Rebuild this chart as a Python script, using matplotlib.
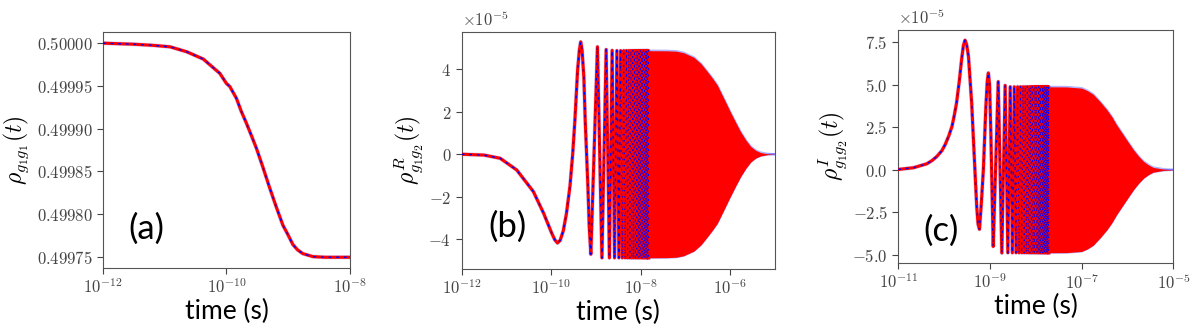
import numpy as np
import matplotlib
matplotlib.use("Agg")
import matplotlib.pyplot as plt
from matplotlib.ticker import FuncFormatter, FixedLocator, NullLocator

plt.rcParams["mathtext.fontset"] = "cm"

# ---------------- data ----------------
# (a) population, x as log10(time / s)
a_log10_t = [-12.0, -11.5, -11.2, -10.914, -10.645, -10.376, -10.107, -10.0,
             -9.946, -9.839, -9.76, -9.677, -9.6, -9.516, -9.41, -9.302,
             -9.194, -9.087, -9.0, -8.926, -8.85, -8.764, -8.6, -8.4, -8.0]
a_rho = [0.4999995, 0.49999825, 0.499997, 0.49999525, 0.4999895, 0.499981,
         0.49996425, 0.4999525, 0.499949, 0.49993525, 0.49992, 0.49990625,
         0.4998925, 0.49987725, 0.499855, 0.49983125, 0.49980875, 0.4997875,
         0.49977575, 0.499765, 0.49975875, 0.49975425, 0.49975075, 0.49975,
         0.49975]

# (b) real part (units of 1e-5): smooth start, then extrema (ns), then envelope
b_log10_t = [-12.0, -11.5, -11.14, -10.77, -10.4, -10.17, -9.99, -9.92, -9.86,
             -9.8, -9.73, -9.66, -9.58, -9.52, -9.47, -9.41, -9.37, -9.34,
             -9.31, -9.27, -9.24, -9.18, -9.15, -9.114]
b_start = [0.0, -0.04, -0.19, -0.74, -1.75, -2.77, -3.7, -4.02, -4.17, -4.05,
           -3.6, -2.8, -1.5, 0.0, 1.6, 3.95, 4.9, 5.28, 4.9, 3.6, 1.6, -1.5,
           -3.4, -4.7]
b_ext_ns = [1.08, 1.36, 1.69, 2.00, 2.30, 2.60, 2.94]
b_ext_val = [5.05, -4.87, 4.92, -4.87, 4.88, -4.87, 4.87]
b_amp = 4.87
b_peaks_ns = [3.56, 4.18, 4.80, 5.42, 6.04, 6.66, 7.28, 7.90, 8.52, 9.14, 9.76,
              10.38, 11.00, 11.62, 12.24, 12.86, 13.48, 14.10, 14.72]
b_troughs_ns = [3.25, 3.87, 4.49, 5.11, 5.73, 6.35, 6.97, 7.59, 8.21, 8.83,
                9.45, 10.07, 10.69, 11.31, 11.93, 12.55, 13.17, 13.79, 14.41,
                15.03]
b_env_log10_t = [-8.35, -8.0, -7.41, -7.2, -7.04, -6.81, -6.65, -6.51, -6.4,
                 -6.29, -6.15, -6.0, -5.88, -5.77, -5.65, -5.54, -5.43, -5.32,
                 -5.17, -5.0]
b_env = [4.87, 4.87, 4.86, 4.84, 4.77, 4.55, 4.25, 3.88, 3.58, 3.25, 2.65,
         2.0, 1.5, 1.06, 0.66, 0.36, 0.18, 0.08, 0.02, 0.0]

# (c) imaginary part (units of 1e-5)
c_log10_t = [-11.0, -10.67, -10.38, -10.27, -10.16, -10.05, -9.98, -9.9, -9.83,
             -9.78, -9.73, -9.67, -9.62, -9.58, -9.545, -9.51, -9.47, -9.40,
             -9.34, -9.29, -9.26, -9.23, -9.19, -9.145, -9.09, -9.06, -9.036,
             -9.01, -8.98, -8.95, -8.93]
c_start = [0.02, 0.12, 0.35, 0.53, 0.78, 1.12, 1.47, 1.98, 2.54, 3.18, 3.92,
           5.2, 6.46, 7.3, 7.6, 7.35, 6.66, 3.92, 0.59, -2.15, -3.2, -3.49,
           -2.0, 0.0, 3.72, 5.2, 5.68, 5.0, 1.96, -2.0, -4.5]
c_ext_ns = [1.51, 1.81, 2.14]
c_ext_val = [5.17, -4.88, 4.95]
c_amp = 4.87
c_peaks_ns = [2.76, 3.38, 4.00, 4.62, 5.24, 5.86, 6.48, 7.10, 7.72, 8.34, 8.96,
              9.58, 10.20, 10.82, 11.44, 12.06, 12.68, 13.30, 13.92, 14.54,
              15.16, 15.78, 16.40, 17.02, 17.64, 18.26, 18.88]
c_troughs_ns = [2.45, 3.07, 3.69, 4.31, 4.93, 5.55, 6.17, 6.79, 7.41, 8.03,
                8.65, 9.27, 9.89, 10.51, 11.13, 11.75, 12.37, 12.99, 13.61,
                14.23, 14.85, 15.47, 16.09, 16.71, 17.33, 17.95, 18.57, 19.19]
c_env_log10_t = [-8.3, -8.0, -7.33, -7.0, -6.88, -6.75, -6.6, -6.45, -6.34,
                 -6.24, -6.13, -6.02, -5.87, -5.76, -5.65, -5.54, -5.44, -5.22,
                 -5.0]
c_env = [4.87, 4.87, 4.86, 4.79, 4.65, 4.43, 4.0, 3.52, 3.1, 2.64, 2.2, 1.76,
         1.17, 0.8, 0.49, 0.28, 0.14, 0.04, 0.0]


def build_curve(log_t, start, ext_ns, ext_val, peaks_ns, troughs_ns, amp):
    dense = sorted([(p, amp) for p in peaks_ns] + [(q, -amp) for q in troughs_ns])
    t = list(10.0 ** np.array(log_t)) + [x * 1e-9 for x in ext_ns] + [d[0] * 1e-9 for d in dense]
    v = list(start) + list(ext_val) + [d[1] for d in dense]
    return np.array(t), np.array(v)


def draw(ax, t, v, env_log_t=None, env=None, split=None):
    if env is not None:
        et = 10.0 ** np.array(env_log_t)
        ev = np.array(env)
        ax.plot(et, ev, color="blue", lw=1.6, alpha=0.3, zorder=1)
        ax.plot(et, -ev, color="blue", lw=1.6, alpha=0.3, zorder=1)
        ax.fill_between(et, -ev, ev, color="red", lw=0, zorder=2)
    ax.plot(t, v, color="blue", lw=3.0, alpha=0.18, zorder=1)
    ax.plot(t, v, color="red", lw=2.2, zorder=3)
    if split is None:
        ax.plot(t, v, color="blue", lw=1.0, ls=(0, (2.0, 3.5)), zorder=4)
    else:
        # resolvable swings get the normal dashes, the packed ones a finer stroke
        n = np.searchsorted(t, split)
        ax.plot(t[:n + 1], v[:n + 1], color="blue", lw=1.0, ls=(0, (2.0, 3.5)), zorder=4)
        ax.plot(t[n:], v[n:], color="blue", lw=0.7, ls=(0, (1.6, 4.8)), zorder=4)


def style(ax, xticks, fmt):
    ax.set_xscale("log")
    ax.xaxis.set_major_locator(FixedLocator(xticks))
    ax.xaxis.set_minor_locator(NullLocator())
    ax.xaxis.set_major_formatter(FuncFormatter(
        lambda x, p: r"$10^{%d}$" % int(round(np.log10(x)))))
    ax.yaxis.set_major_formatter(FuncFormatter(fmt))
    ax.tick_params(labelsize=12, colors="#444444", length=4)
    for s in ax.spines.values():
        s.set_color("#555555")
    ax.set_xlabel("time (s)", fontsize=19, family="Lato", labelpad=1)


fig = plt.figure(figsize=(11.96, 3.32), dpi=100)

# (a)
ax1 = fig.add_axes([0.0861, 0.1928, 0.2065, 0.7108])
t_a = 10.0 ** np.array(a_log10_t)
draw(ax1, t_a, np.array(a_rho))
ax1.set_xlim(1e-12, 1e-8)
ax1.set_ylim(0.4997375, 0.5000125)
ax1.set_yticks([0.49975, 0.4998, 0.49985, 0.4999, 0.49995, 0.5])
style(ax1, [1e-12, 1e-10, 1e-8], lambda y, p: r"$%.5f$" % y)
ax1.set_ylabel(r"$\rho_{g_1g_1}(t)$", fontsize=17)
ax1.text(0.175, 0.165, "(a)", transform=ax1.transAxes, fontsize=25,
         family="Lato", ha="center", va="center")

# (b)
ax2 = fig.add_axes([0.386, 0.19, 0.262, 0.714])
t_b, v_b = build_curve(b_log10_t, b_start, b_ext_ns, b_ext_val,
                       b_peaks_ns, b_troughs_ns, b_amp)
draw(ax2, t_b, v_b, b_env_log10_t, b_env, split=3.3e-9)
ax2.set_xlim(1e-12, 1e-5)
ax2.set_ylim(-5.39, 5.75)
ax2.set_yticks([-4, -2, 0, 2, 4])
style(ax2, [1e-12, 1e-10, 1e-8, 1e-6], lambda y, p: r"$%d$" % round(y))
ax2.set_ylabel(r"$\rho^{R}_{g_1g_2}(t)$", fontsize=17, labelpad=2)
ax2.text(0.0, 1.01, r"$\times10^{-5}$", transform=ax2.transAxes, fontsize=12,
         color="#444444", ha="left", va="bottom")
ax2.text(0.147, 0.177, "(b)", transform=ax2.transAxes, fontsize=25,
         family="Lato", ha="center", va="center")

# (c)
ax3 = fig.add_axes([0.7511, 0.2078, 0.23, 0.7018])
t_c, v_c = build_curve(c_log10_t, c_start, c_ext_ns, c_ext_val,
                       c_peaks_ns, c_troughs_ns, c_amp)
draw(ax3, t_c, v_c, c_env_log10_t, c_env, split=3.5e-9)
ax3.set_xlim(1e-11, 1e-5)
ax3.set_ylim(-5.47, 8.2)
ax3.set_yticks([-5.0, -2.5, 0.0, 2.5, 5.0, 7.5])
style(ax3, [1e-11, 1e-9, 1e-7, 1e-5], lambda y, p: r"$%.1f$" % y)
ax3.set_ylabel(r"$\rho^{I}_{g_1g_2}(t)$", fontsize=17, labelpad=2)
ax3.text(0.0, 1.01, r"$\times10^{-5}$", transform=ax3.transAxes, fontsize=12,
         color="#444444", ha="left", va="bottom")
ax3.text(0.155, 0.137, "(c)", transform=ax3.transAxes, fontsize=25,
         family="Lato", ha="center", va="center")

fig.savefig("out.png", dpi=100)
